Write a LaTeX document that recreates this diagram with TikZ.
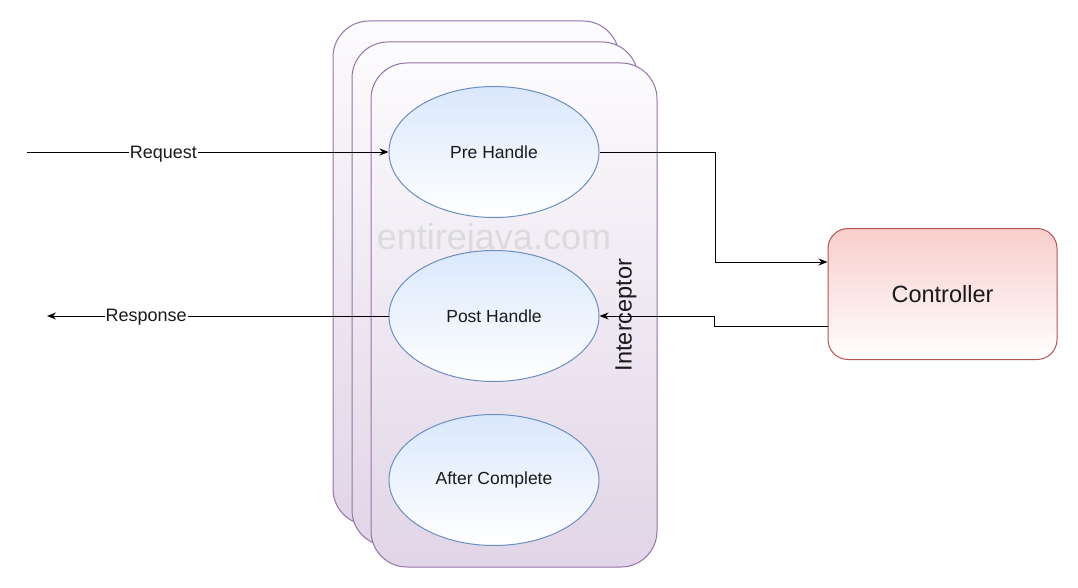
\documentclass[tikz,border=0pt]{standalone}
\usepackage{fontspec}
\setmainfont{Liberation Sans}
\usetikzlibrary{shapes.geometric,arrows.meta,calc}
\definecolor{boxline}{HTML}{9673A6}
\definecolor{boxtop}{HTML}{FCFBFD}
\definecolor{boxbot}{HTML}{E1D5E7}
\definecolor{ellline}{HTML}{6C8EBF}
\definecolor{elltop}{HTML}{DAE8FC}
\definecolor{ctrlline}{HTML}{B85450}
\definecolor{ctrltop}{HTML}{F8CECC}
\definecolor{txt}{HTML}{1A1A1A}
\tikzset{
  ibox/.style={draw=boxline, line width=1pt, rounded corners=36pt, top color=boxtop, bottom color=boxbot,
    minimum width=286pt, minimum height=504pt, inner sep=0pt},
  ell/.style={ellipse, draw=ellline, line width=1pt, top color=elltop, bottom color=white,
    minimum width=210pt, minimum height=131pt, inner sep=0pt, text=txt, font=\fontsize{17.5}{20}\selectfont},
  ctrlbox/.style={draw=ctrlline, line width=1pt, rounded corners=20pt, top color=ctrltop, bottom color=white,
    minimum width=229pt, minimum height=131pt, inner sep=0pt, text=txt, font=\fontsize{23.5}{26}\selectfont},
  arr/.style={draw=black, line width=0.95pt, -{Stealth[length=9pt,width=7pt]}},
  lbl/.style={fill=white, inner sep=1pt, text=txt, font=\fontsize{18}{20}\selectfont},
}
\begin{document}
\begin{tikzpicture}[x=1pt,y=-1pt]
\useasboundingbox (0,0) rectangle (1078,588);
\fill[white] (0,0) rectangle (1078,588);
\node[ibox] (b1) at (476,273) {};
\node[ibox] (b2) at (495,294) {};
\node[ibox] (b3) at (514,315) {};
\node[text=black!14, font=\fontsize{36}{40}\selectfont] (wm) at (494,240) {entirejava.com};
\node[rotate=90, text=txt, font=\fontsize{23.5}{26}\selectfont] (intc) at (626,315) {Interceptor};
\node[ell] (pre) at (494,152) {Pre Handle};
\node[ell] (post) at (494,316) {Post Handle};
\node[ell] (after) at (494,480) {After Complete};
\node[ctrlbox] (ctrl) at (942.5,294) {Controller};
\coordinate (reqstart) at (27,152);
\coordinate (respend) at (47,316);
\draw[arr] (reqstart) -- node[lbl, pos=0.377, yshift=-2pt] (reqlbl) {Request} (pre.west);
\draw[arr] (post.west) -- node[lbl, pos=0.71, yshift=-1pt] (resplbl) {Response} (respend);
\draw[arr] (pre.east) -- ++(116,0) |- ($(ctrl.west)+(0,-32)$);
\draw[arr] ($(ctrl.west)+(0,32)$) -- ++(-113,0) |- (post.east);
\end{tikzpicture}
\end{document}
